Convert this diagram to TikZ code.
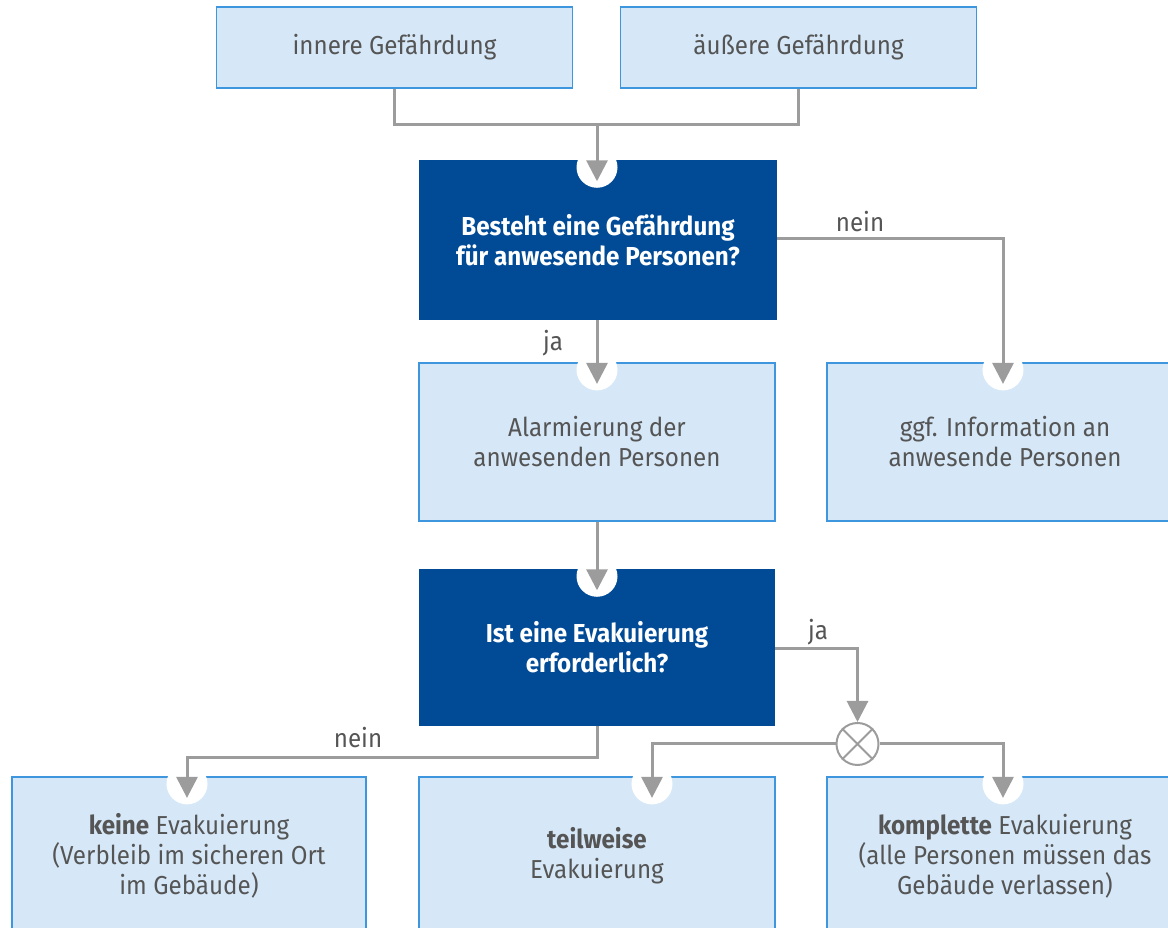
\documentclass[tikz,border=0pt]{standalone}
\usepackage{fontspec}
\setmainfont{Fira Sans}[FakeStretch=0.93]
\usetikzlibrary{arrows.meta,calc}
\definecolor{lightfill}{HTML}{D6E8F8}
\definecolor{lightborder}{HTML}{3D96DE}
\definecolor{darkblue}{HTML}{004A96}
\definecolor{conn}{HTML}{9C9C9C}
\definecolor{txt}{HTML}{555555}
\tikzset{
  lightbox/.style={draw=lightborder, line width=1.2pt, fill=lightfill, inner sep=0pt,
    minimum width=356pt, minimum height=158pt, align=center, text=txt,
    font=\fontsize{26}{30}\selectfont},
  topbox/.style={lightbox, minimum height=81pt},
  darkbox/.style={draw=none, fill=darkblue, inner sep=0pt, minimum width=358pt,
    minimum height=158pt, align=center, text=white, font=\fontsize{26}{30}\selectfont\bfseries},
  conn/.style={draw=conn, line width=3pt},
  arr/.style={conn, -{Triangle[length=21pt,width=21pt]}},
  lbl/.style={text=txt, font=\fontsize{26}{30}\selectfont, inner sep=0pt},
  hole/.style={circle, fill=white, draw=none, minimum size=41pt, inner sep=0pt},
}
\begin{document}
\begin{tikzpicture}[x=1pt,y=1pt]
\useasboundingbox (0,0) rectangle (1168,928);
\clip (0,0) rectangle (1168,928);
% nodes
\node[topbox] (inn) at (394.5,880.5) {innere Gefährdung};
\node[topbox] (aus) at (798.5,880.5) {äußere Gefährdung};
\node[darkbox, minimum height=160pt] (q1) at (598,688) {Besteht eine Gefährdung\\für anwesende Personen?};
\node[lightbox] (alarm) at (597,486) {Alarmierung der\\anwesenden Personen};
\node[lightbox] (ggf) at (1005,486) {ggf. Information an\\anwesende Personen};
\node[darkbox, minimum width=356pt, minimum height=157pt] (q2) at (597,280.5) {Ist eine Evakuierung\\erforderlich?};
\node[lightbox, minimum width=354pt] (keine) at (189,72) {\textbf{keine} Evakuierung\\(Verbleib im sicheren Ort\\im Gebäude)};
\node[lightbox] (teil) at (597,72) {\textbf{teilweise}\\Evakuierung};
\node[lightbox] (kompl) at (1005,72) {\textbf{komplette} Evakuierung\\(alle Personen müssen das\\Gebäude verlassen)};
% holes
\foreach \n/\x in {q1/597,alarm/597,ggf/1003,q2/597,keine/187,teil/652,kompl/1003}{
  \node[hole, yshift=-7.5pt] (h\n) at (\x,0 |- \n.north) {};
}
% xor
\node[circle, draw=conn, line width=2pt, fill=white, minimum size=42pt, inner sep=0pt] (xor) at (857.5,184) {};
\draw[conn, line width=2pt] (xor.north west) -- (xor.south east) (xor.north east) -- (xor.south west);
% coordinates
\coordinate (j1) at (597,803);
\coordinate (j2) at (597,170);
% connectors
\draw[conn] (inn.south) |- (j1) -| (aus.south);
\draw[arr] (j1) -- ($(hq1.center)+(0,-14)$);
\draw[arr] (q1.east |- 0,689) -| ($(hggf.center)+(0,-14)$);
\draw[arr] (q1.south -| 597,0) -- ($(halarm.center)+(0,-14)$);
\draw[arr] (alarm.south) -- ($(hq2.center)+(0,-14)$);
\draw[arr] (q2.east |- 0,279) -| (xor.north);
\draw[arr] (xor.west) -| ($(hteil.center)+(0,-14)$);
\draw[arr] (xor.east) -| ($(hkompl.center)+(0,-14)$);
\draw[arr] (q2.south) |- (j2) -| ($(hkeine.center)+(0,-14)$);
% labels
\node[lbl] (l1) at (860,706) {nein};
\node[lbl] (l2) at (553,585) {ja};
\node[lbl] (l3) at (818,296) {ja};
\node[lbl] (l4) at (358,190) {nein};
\end{tikzpicture}
\end{document}
